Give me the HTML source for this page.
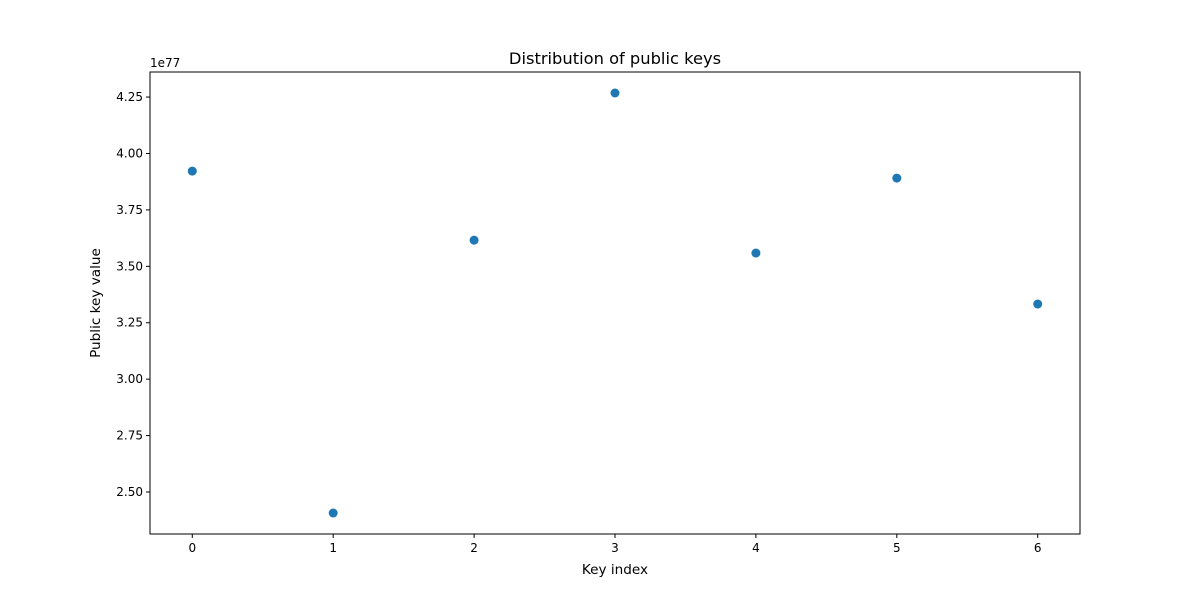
<!DOCTYPE html>
<html><head><meta charset="utf-8"><style>
body{margin:0;background:#fff;}
svg text{font-family:"DejaVu Sans","Liberation Sans",sans-serif;fill:#000;}
</style></head><body>
<svg id="chart" width="1200" height="600" xmlns="http://www.w3.org/2000/svg"></svg>
<script>
const categories=[0,1,2,3,4,5,6];
const values=[3.922,2.407,3.616,4.268,3.559,3.891,3.333];
const yTicks=[2.5,2.75,3.0,3.25,3.5,3.75,4.0,4.25];
const yTickLabels=["2.50","2.75","3.00","3.25","3.50","3.75","4.00","4.25"];
const xTicks=[0,1,2,3,4,5,6];
const L=150,R=1080,T=72,B=534;
const xmin=-0.3,xmax=6.3;
const vmin=Math.min(...values),vmax=Math.max(...values),pad=(vmax-vmin)*0.05;
const ymin=vmin-pad,ymax=vmax+pad;
const xs=v=>L+(v-xmin)/(xmax-xmin)*(R-L);
const ys=v=>B-(v-ymin)/(ymax-ymin)*(B-T);
const svg=document.getElementById('chart');
const NS='http://www.w3.org/2000/svg';
function mk(tag,attrs,txt){const e=document.createElementNS(NS,tag);for(const k in attrs)e.setAttribute(k,attrs[k]);if(txt!==undefined)e.textContent=txt;svg.appendChild(e);return e;}
categories.forEach((c,i)=>{
 const p=mk('circle',{cx:xs(c),cy:ys(values[i]),r:4.5,fill:'#1f77b4'});
 
 
});
const frame=mk('rect',{x:L,y:T,width:R-L,height:B-T,fill:'none',stroke:'#000','stroke-width':1});


xTicks.forEach(t=>{
 const x=xs(t);
 mk('line',{x1:x,x2:x,y1:B,y2:B+4,stroke:'#000'});
 const tl=mk('text',{x:x,y:B+18,'text-anchor':'middle','font-size':12},String(t));
 
 
});
yTicks.forEach((t,i)=>{
 const y=ys(t);
 mk('line',{x1:L-4,x2:L,y1:y,y2:y,stroke:'#000'});
 const tl=mk('text',{x:L-7,y:y+4,'text-anchor':'end','font-size':12},yTickLabels[i]);
 
 
});
const off=mk('text',{x:L,y:T-5,'font-size':12},'1e77');


const ti=mk('text',{x:(L+R)/2,y:T-8,'text-anchor':'middle','font-size':16.3},'Distribution of public keys');


const xl=mk('text',{x:(L+R)/2,y:574,'text-anchor':'middle','font-size':13.6},'Key index');


const yl=mk('text',{x:100,y:(T+B)/2,'text-anchor':'middle','font-size':13.6,transform:'rotate(-90 100 '+((T+B)/2)+')'},'Public key value');


</script>
</body></html>
